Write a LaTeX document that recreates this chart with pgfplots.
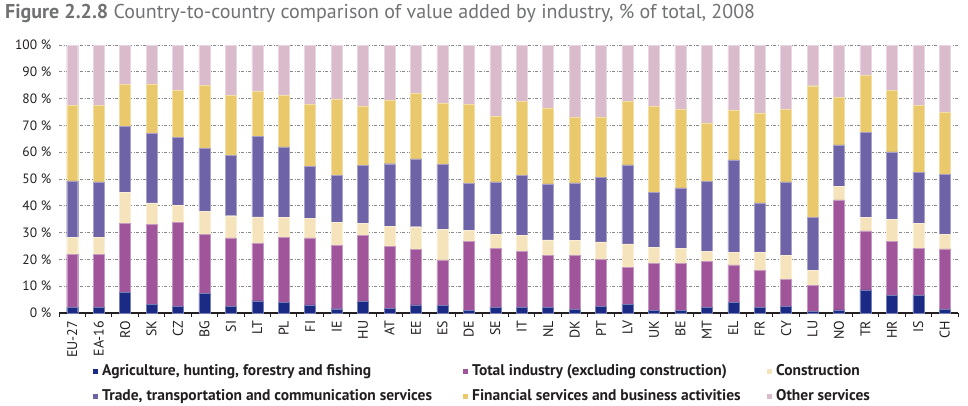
\documentclass[border=0pt]{standalone}
\usepackage{pgfplots}
\usepackage{pgfplotstable}
\pgfplotsset{compat=1.18}
\usepackage{fontspec}
\setmainfont{PT Sans}
\definecolor{cagri}{HTML}{1B2A84}
\definecolor{cind}{HTML}{A0559A}
\definecolor{ccon}{HTML}{F5E4BB}
\definecolor{ctrade}{HTML}{6D63A6}
\definecolor{cfin}{HTML}{E9C96C}
\definecolor{coth}{HTML}{DABBCB}
\definecolor{ctitle}{HTML}{707173}
\definecolor{ctext}{HTML}{231F20}
\definecolor{cgrid}{HTML}{8A8A8A}

\pgfplotstableread{
x name agri ind constr trade fin other
0  EU-27 2.1 19.8 6.4 21.0 28.1 22.6
1  EA-16 2.1 19.8 6.3 20.7 28.5 22.6
2  RO 7.7 25.7 11.7 24.6 15.6 14.7
3  SK 3.1 29.9 8.1 25.9 18.5 14.5
4  CZ 2.6 31.1 6.5 25.3 17.7 16.8
5  BG 7.3 22.0 8.6 23.5 23.6 15.0
6  SI 2.5 25.5 8.3 22.5 22.3 18.9
7  LT 4.5 21.5 9.9 29.9 16.8 17.4
8  PL 4.0 24.3 7.4 26.3 19.2 18.8
9  FI 3.0 25.0 7.3 19.4 23.1 22.2
10 IE 1.6 23.7 8.5 17.5 28.6 20.1
11 HU 4.3 24.6 4.6 21.5 22.3 22.7
12 AT 1.7 23.3 7.4 23.3 23.8 20.5
13 EE 3.0 20.7 8.5 25.3 24.4 18.1
14 ES 2.9 16.9 11.3 24.4 22.9 21.6
15 DE 0.9 25.8 4.1 17.6 29.4 22.2
16 SE 2.1 21.9 5.3 19.6 24.5 26.6
17 IT 2.1 20.9 6.1 22.2 27.6 21.1
18 NL 2.1 19.4 5.8 20.9 28.3 23.5
19 DK 1.4 20.0 5.6 21.6 24.6 26.8
20 PT 2.5 17.5 6.5 24.1 22.6 26.8
21 LV 3.2 13.8 8.8 29.5 23.8 20.9
22 UK 0.9 17.6 6.1 20.5 31.9 23.0
23 BE 0.9 17.7 5.4 22.7 29.2 24.1
24 MT 2.1 17.3 3.5 26.3 21.7 29.1
25 EL 3.9 14.1 4.7 34.4 18.7 24.2
26 FR 2.1 13.8 6.7 18.5 33.6 25.3
27 CY 2.4 10.1 9.0 27.4 27.1 24.0
28 LU 0.5 9.8 5.7 19.8 49.0 15.2
29 NO 1.2 41.0 5.1 15.4 17.7 19.6
30 TR 8.6 22.0 5.2 31.7 21.2 11.3
31 HR 6.6 20.1 8.3 25.1 22.9 17.0
32 IS 6.6 17.4 9.5 19.0 25.0 22.5
33 CH 1.4 22.5 5.4 22.4 23.1 25.2
}\data

\begin{document}
\begin{tikzpicture}
\path[use as bounding box] (0,0) rectangle (968bp,-406bp);
\node[anchor=base west, inner sep=0pt, font=\fontsize{20bp}{22bp}\selectfont, text=ctitle] at (5bp,-18bp)
  {\textbf{Figure 2.2.8} Country-to-country comparison of value added by industry, \% of total, 2008};
\begin{axis}[
  at={(59bp,-313bp)}, anchor=south west,
  scale only axis, width=899bp, height=268bp,
  ybar stacked, bar width=11bp,
  xmin=-0.5, xmax=33.5, ymin=0, ymax=100,
  enlarge x limits=false, enlarge y limits=false,
  axis x line*=bottom, axis y line*=left,
  x axis line style={-, line width=1.2bp, ctext},
  y axis line style={draw=none},
  xtick=data,
  xticklabels from table={\data}{name},
  minor xtick={-0.5,0.5,...,33.5},
  major x tick style={draw=none},
  minor x tick style={line width=1bp, ctext},
  minor tick length=4bp,
  tick align=outside,
  ytick={0,10,...,100},
  yticklabels={0 \%,10 \%,20 \%,30 \%,40 \%,50 \%,60 \%,70 \%,80 \%,90 \%,100 \%},
  ytick style={draw=none},
  ymajorgrids,
  major grid style={cgrid, line width=0.8bp, dash pattern=on 3bp off 1.5bp on 1bp off 1.5bp},
  yticklabel style={font=\fontsize{13.5bp}{14bp}\selectfont, text=ctext},
  xticklabel style={rotate=90, anchor=east, font=\fontsize{14bp}{15bp}\selectfont, text=ctext},
  legend columns=3,
  legend style={at={(0.0378,-0.192)}, anchor=north west, draw=none, fill=none,
    inner sep=0pt, row sep=12bp,
    font=\bfseries\fontsize{15.5bp}{17bp}\selectfont, text=ctext,
    nodes={inner sep=0pt, anchor=base west},
    /tikz/every odd column/.append style={column sep=4bp}},
  legend cell align=left,
  legend image code/.code={\fill[#1, draw=none] (0bp,1.5bp) rectangle (5bp,6.5bp);},
]
\addplot[fill=cagri, draw=cagri!60!white, line width=0.4bp] table[x=x, y=agri] {\data};
\addplot[fill=cind, draw=cind!60!white, line width=0.4bp] table[x=x, y=ind] {\data};
\addplot[fill=ccon, draw=ccon!60!white, line width=0.4bp] table[x=x, y=constr] {\data};
\addplot[fill=ctrade, draw=ctrade!60!white, line width=0.4bp] table[x=x, y=trade] {\data};
\addplot[fill=cfin, draw=cfin!60!white, line width=0.4bp] table[x=x, y=fin] {\data};
\addplot[fill=coth, draw=coth!60!white, line width=0.4bp] table[x=x, y=other] {\data};
\addlegendentry{\makebox[361bp][l]{Agriculture, hunting, forestry and fishing}}
\addlegendentry{\makebox[295bp][l]{Total industry (excluding construction)}}
\addlegendentry{Construction}
\addlegendentry{\makebox[361bp][l]{Trade, transportation and communication services}}
\addlegendentry{\makebox[295bp][l]{Financial services and business activities}}
\addlegendentry{Other services}
\end{axis}
\end{tikzpicture}
\end{document}
